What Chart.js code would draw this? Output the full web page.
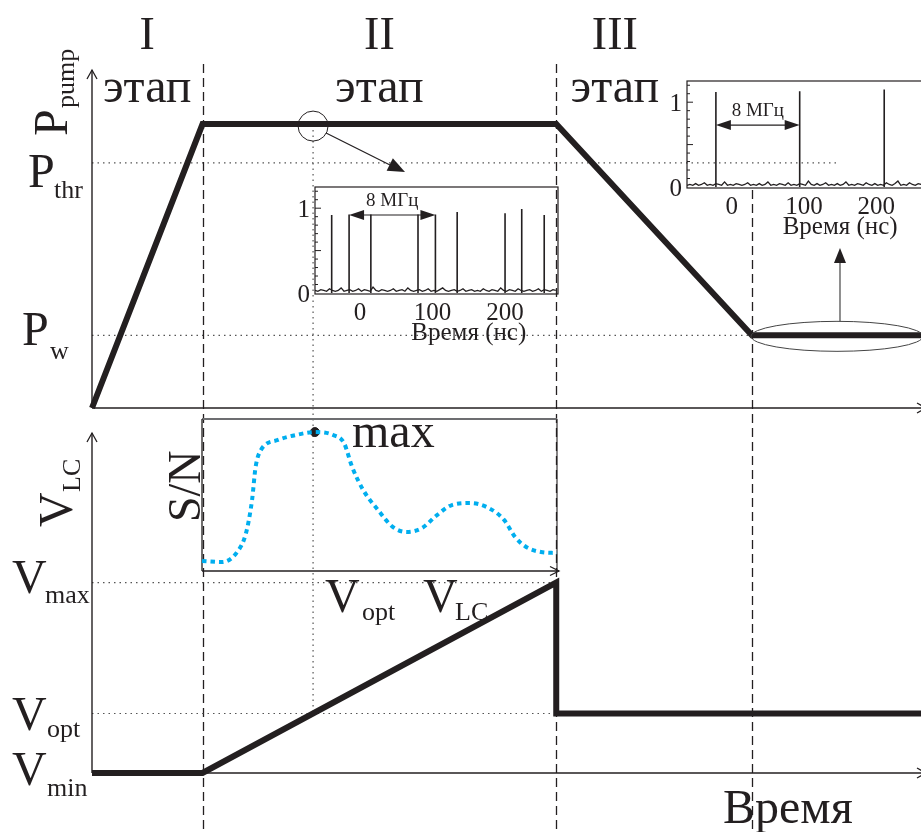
<!DOCTYPE html>
<html>
<head>
<meta charset="utf-8">
<script src="https://cdn.jsdelivr.net/npm/chart.js@4.4.1/dist/chart.umd.min.js"></script>
<style>
  html, body { margin: 0; padding: 0; background: #fff; overflow: hidden; }
  #wrap { position: relative; width: 921px; height: 832px; overflow: hidden; }
  #wrap canvas { position: absolute; left: 0; top: 0; }
</style>
</head>
<body>
<div id="wrap">
  <canvas id="pumpChart" width="921" height="832"></canvas>
  <canvas id="vlcChart" width="921" height="832"></canvas>
  <canvas id="spec1" width="921" height="832"></canvas>
  <canvas id="spec2" width="940" height="832"></canvas>
  <canvas id="snChart" width="921" height="832"></canvas>
</div>
<script>
// ---- data ----
const stageEdges = [1, 4.2, 5.97];
const stageNames = ["I", "II", "III"];
const stageLabelAt = [0.5, 2.6, 4.73];

const pumpTime  = [0, 1, 4.2, 5.97, 7.5];
const pumpPower = [0, 8.4, 8.4, 2.15, 2.15];
const pThr = 7.25;
const pW = 2.15;

const vlcTime = [0, 1, 4.2, 4.2, 7.5];
const vlcVolt = [0, 0, 5.6, 1.75, 1.75];
const vMax = 5.6;
const vOpt = 1.75;
const tOpt = 2.0;

// S/N vs V_LC (inset)
const snVolt  = [0, 0.056, 0.099, 0.124, 0.141, 0.151, 0.166, 0.214, 0.265, 0.318, 0.369, 0.4, 0.423, 0.454,
                 0.496, 0.538, 0.577, 0.62, 0.662, 0.704, 0.755, 0.808, 0.851, 0.882, 0.913, 0.955, 1.0];
const snRatio = [0.066, 0.059, 0.125, 0.25, 0.467, 0.684, 0.796, 0.862, 0.895, 0.914, 0.895, 0.842, 0.684, 0.533,
                 0.401, 0.289, 0.257, 0.283, 0.368, 0.434, 0.447, 0.414, 0.336, 0.224, 0.158, 0.125, 0.118];
const snPeak = 9;

// pulse trains (insets), time in ns
const specTicksX = [0, 100, 200];
const specTicksY = [0, 1];
const spikes1Time = [-39, -15, 15, 80, 104, 134, 200, 223, 254];
const spikes1Amp  = [0.92, 0.925, 0.925, 0.925, 0.925, 0.955, 0.94, 0.99, 0.92];
const spikes2Time = [-22, 94, 211];
const spikes2Amp  = [1.12, 1.13, 1.15];
const noiseStart = -62, noiseStep = 4;
const noise1 = [0.03,0.02,0.04,0.03,0.02,0.05,0.03,0.02,0.03,0.06,
                0.02,0.03,0.04,0.02,0.03,0.05,0.02,0.04,0.03,0.02,
                0.07,0.03,0.02,0.04,0.03,0.02,0.03,0.05,0.02,0.03,
                0.04,0.02,0.06,0.03,0.02,0.03,0.04,0.02,0.03,0.05,
                0.02,0.03,0.02,0.04,0.06,0.03,0.02,0.03,0.04,0.02,
                0.03,0.05,0.02,0.03,0.04,0.02,0.03,0.02,0.05,0.03,
                0.02,0.04,0.03,0.02,0.06,0.03,0.02,0.04,0.03,0.02,
                0.05,0.03,0.02,0.03,0.04,0.02,0.03,0.05,0.02,0.04,
                0.03,0.02,0.04,0.03];
const noise2 = [0.02,0.03,0.02,0.04,0.02,0.03,0.05,0.02,0.03,0.02,
                0.04,0.03,0.02,0.06,0.02,0.03,0.02,0.04,0.03,0.02,
                0.03,0.05,0.02,0.03,0.02,0.04,0.02,0.03,0.06,0.02,
                0.03,0.02,0.04,0.03,0.02,0.05,0.02,0.03,0.02,0.04,
                0.03,0.02,0.07,0.03,0.02,0.04,0.02,0.03,0.05,0.02,
                0.03,0.02,0.04,0.02,0.03,0.06,0.02,0.03,0.02,0.04,
                0.03,0.02,0.05,0.03,0.02,0.04,0.02,0.03,0.02,0.05,
                0.03,0.02,0.04,0.07,0.02,0.03,0.02,0.05,0.03,0.02,
                0.04,0.03,0.02,0.06];

// ---- drawing helpers ----
const SERIF = "'Liberation Serif', 'Times New Roman', serif";
const INK = "#231f20";

function text(ctx, s, x, y, size, align) {
  ctx.font = size + "px " + SERIF;
  ctx.textAlign = align || "left";
  ctx.textBaseline = "alphabetic";
  ctx.fillStyle = INK;
  ctx.fillText(s, x, y);
}
function subText(ctx, main, sub, x, y, sx, sy) {
  text(ctx, main, x, y, 48);
  text(ctx, sub, sx, sy, 26);
}
function rotText(ctx, main, sub, x, y, dx, dy, size) {
  ctx.save();
  ctx.translate(x, y);
  ctx.rotate(-Math.PI / 2);
  text(ctx, main, 0, 0, size || 48);
  if (sub) text(ctx, sub, dx, dy, 26);
  ctx.restore();
}
function seg(ctx, x1, y1, x2, y2, w, color, dash) {
  ctx.save();
  ctx.beginPath();
  ctx.lineWidth = w;
  ctx.strokeStyle = color || INK;
  ctx.setLineDash(dash || []);
  ctx.moveTo(x1, y1);
  ctx.lineTo(x2, y2);
  ctx.stroke();
  ctx.restore();
}
function head(ctx, x1, y1, x2, y2, len, half, filled, color) {
  const a = Math.atan2(y2 - y1, x2 - x1);
  const bx = x2 - len * Math.cos(a), by = y2 - len * Math.sin(a);
  const px = half * Math.sin(a), py = -half * Math.cos(a);
  ctx.save();
  ctx.setLineDash([]);
  ctx.beginPath();
  ctx.moveTo(bx + px, by + py);
  ctx.lineTo(x2, y2);
  ctx.lineTo(bx - px, by - py);
  if (filled) {
    ctx.closePath();
    ctx.fillStyle = color || INK;
    ctx.fill();
  } else {
    ctx.lineWidth = 1.3;
    ctx.strokeStyle = color || INK;
    ctx.stroke();
  }
  ctx.restore();
}
const DOT = [1.5, 4];
const DOT_COLOR = "#555";

function baseOptions(pad, xmin, xmax, ymin, ymax) {
  return {
    responsive: false,
    animation: false,
    events: [],
    layout: { padding: pad },
    plugins: { legend: { display: false }, tooltip: { enabled: false } },
    scales: {
      x: { type: "linear", display: false, min: xmin, max: xmax },
      y: { type: "linear", display: false, min: ymin, max: ymax }
    },
    elements: { point: { radius: 0 }, line: { tension: 0 } }
  };
}
function pairs(xs, ys) {
  return xs.map((x, i) => ({ x: x, y: ys[i] }));
}

// ---- top panel: pump power ----
const pumpDecor = {
  id: "pumpDecor",
  beforeDatasetsDraw(chart) {
    const { ctx, chartArea: a, scales: { x, y } } = chart;
    const yThr = y.getPixelForValue(pThr), yW = y.getPixelForValue(pW);
    seg(ctx, a.left, yThr, x.getPixelForValue(6.74), yThr, 1.2, DOT_COLOR, DOT);
    seg(ctx, a.left, yW, x.getPixelForValue(stageEdges[2]), yW, 1.2, DOT_COLOR, DOT);
    const xo = x.getPixelForValue(tOpt);
    seg(ctx, xo, y.getPixelForValue(pumpPower[1]) + 6, xo, a.bottom, 1.2, DOT_COLOR, DOT);
    stageEdges.forEach((t, i) => {
      const xs = Math.round(x.getPixelForValue(t)) + 0.5;
      seg(ctx, xs, i === 2 ? 190 : 64, xs, 832, 1.3, INK, [9, 5]);
    });
    // axes
    seg(ctx, a.left, a.bottom, a.left, a.top, 1.4);
    head(ctx, a.left, a.bottom, a.left, a.top, 9, 5, false);
    seg(ctx, a.left, a.bottom, 926, a.bottom, 1.4);
    head(ctx, a.left, a.bottom, 926, a.bottom, 9, 5, false);
  },
  afterDraw(chart) {
    const { ctx, scales: { x, y } } = chart;
    stageNames.forEach((s, i) => {
      const cx = x.getPixelForValue(stageLabelAt[i]);
      text(ctx, s, cx, 49, 46, "center");
      text(ctx, "этап", cx, 102, 48, "center");
    });
    rotText(ctx, "P", "pump", 67, 136, 28, 7);
    subText(ctx, "P", "thr", 28, 187, 54, 198);
    subText(ctx, "P", "w", 22, 345, 50, 359);

    // magnifier circle + arrow
    const cx = x.getPixelForValue(tOpt), cy = y.getPixelForValue(pumpPower[1]) + 2;
    ctx.save();
    ctx.beginPath();
    ctx.lineWidth = 1;
    ctx.strokeStyle = INK;
    ctx.arc(cx, cy, 15, 0, Math.PI * 2);
    ctx.stroke();
    ctx.restore();
    seg(ctx, cx + 13, cy + 7, 400, 170, 1.2);
    head(ctx, cx + 13, cy + 7, 405, 172, 17, 7, true);

    // ellipse on the P_w plateau + arrow to inset
    const ex = x.getPixelForValue(6.74), ey = y.getPixelForValue(pW) + 1;
    ctx.save();
    ctx.beginPath();
    ctx.lineWidth = 1;
    ctx.strokeStyle = "#444";
    ctx.ellipse(ex, ey, 86, 15, 0, 0, Math.PI * 2);
    ctx.stroke();
    ctx.restore();
    seg(ctx, ex + 3, ey - 15, ex + 3, 256, 1.2, "#444");
    head(ctx, ex + 3, ey - 15, ex + 3, 248, 15, 6, true, INK);
  }
};

new Chart(document.getElementById("pumpChart"), {
  type: "line",
  data: {
    datasets: [{
      data: pairs(pumpTime, pumpPower),
      borderColor: INK,
      borderWidth: 6,
      borderJoinStyle: "miter",
      clip: false
    }]
  },
  options: baseOptions({ left: 92, right: 0, top: 70, bottom: 424 }, 0, 7.5, 0, 10),
  plugins: [pumpDecor]
});

// ---- bottom panel: LC voltage ----
const vlcDecor = {
  id: "vlcDecor",
  beforeDatasetsDraw(chart) {
    const { ctx, chartArea: a, scales: { x, y } } = chart;
    const yMax = y.getPixelForValue(vMax), yOpt = y.getPixelForValue(vOpt);
    const x2 = x.getPixelForValue(stageEdges[1]);
    seg(ctx, a.left, yMax, x2, yMax, 1.2, DOT_COLOR, DOT);
    seg(ctx, a.left, yOpt, x2, yOpt, 1.2, DOT_COLOR, DOT);
    const xo = x.getPixelForValue(tOpt);
    seg(ctx, xo, a.top - 25, xo, yOpt, 1.2, DOT_COLOR, DOT);
    seg(ctx, a.left, a.bottom, a.left, a.top, 1.4);
    head(ctx, a.left, a.bottom, a.left, a.top, 9, 5, false);
    seg(ctx, a.left, a.bottom, 926, a.bottom, 1.4);
    head(ctx, a.left, a.bottom, 926, a.bottom, 9, 5, false);
  },
  afterDraw(chart) {
    const { ctx } = chart;
    rotText(ctx, "V", "LC", 72, 527, 35, 8);
    subText(ctx, "V", "max", 12, 593, 45, 603);
    subText(ctx, "V", "opt", 12, 730, 47, 737);
    subText(ctx, "V", "min", 12, 785, 47, 796);
    text(ctx, "Время", 723, 823, 48);
  }
};

new Chart(document.getElementById("vlcChart"), {
  type: "line",
  data: {
    datasets: [{
      data: pairs(vlcTime, vlcVolt),
      borderColor: INK,
      borderWidth: 6,
      borderJoinStyle: "miter",
      clip: false
    }]
  },
  options: baseOptions({ left: 92, right: 0, top: 433, bottom: 59 }, 0, 7.5, 0, 10),
  plugins: [vlcDecor]
});

// ---- pulse-train insets ----
function spikePoints(times, amps) {
  const pts = [];
  times.forEach((t, i) => {
    pts.push({ x: t, y: 0 }, { x: t, y: amps[i] }, { x: t, y: null });
  });
  return pts;
}
function noisePoints(vals) {
  return vals.map((v, i) => ({ x: noiseStart + i * noiseStep, y: v }));
}
function specDecor(id, arrowFrom, arrowTo, arrowLevel) {
  return {
    id: id,
    afterDatasetsDraw(chart) {
      const { ctx, chartArea: a, scales: { x, y } } = chart;
      ctx.save();
      ctx.lineWidth = 1.2;
      ctx.strokeStyle = INK;
      ctx.setLineDash([]);
      ctx.strokeRect(a.left, a.top, a.right - a.left, a.bottom - a.top);
      ctx.restore();
      for (let k = 1; k <= 12; k++) {
        const v = k / 10;
        const yy = y.getPixelForValue(v);
        const len = (k === 5 || k === 10) ? 6 : 3;
        seg(ctx, a.left, yy, a.left + len, yy, 1);
      }
      specTicksY.forEach(v => text(ctx, String(v), a.left - 5, y.getPixelForValue(v) + 9, 25, "right"));
      specTicksX.forEach(v => text(ctx, String(v), x.getPixelForValue(v), a.bottom + 26, 25, "center"));
      text(ctx, "Время (нс)", x.getPixelForValue(150), a.bottom + 46, 25, "center");
      const xa = x.getPixelForValue(arrowFrom), xb = x.getPixelForValue(arrowTo);
      const ya = y.getPixelForValue(arrowLevel);
      seg(ctx, xa + 8, ya, xb - 8, ya, 1.1);
      head(ctx, xb, ya, xa, ya, 15, 5, true);
      head(ctx, xa, ya, xb, ya, 15, 5, true);
      text(ctx, "8 МГц", (xa + xb) / 2, ya - 9, 19, "center");
    }
  };
}
function specChart(id, pad, noise, times, amps, plugin) {
  return new Chart(document.getElementById(id), {
    type: "line",
    data: {
      datasets: [
        { data: noisePoints(noise), borderColor: INK, borderWidth: 1.3, clip: false },
        { data: spikePoints(times, amps), borderColor: INK, borderWidth: 1.6, spanGaps: false }
      ]
    },
    options: baseOptions(pad, -62, 273, -0.012, 1.25),
    plugins: [plugin]
  });
}
specChart("spec1", { left: 315, right: 363, top: 187, bottom: 538 }, noise1, spikes1Time, spikes1Amp,
  specDecor("spec1Decor", spikes1Time[1], spikes1Time[4], 0.92));
specChart("spec2", { left: 687, right: 11, top: 81, bottom: 644 }, noise2, spikes2Time, spikes2Amp,
  specDecor("spec2Decor", spikes2Time[0], spikes2Time[1], 0.73));

// ---- S/N vs V_LC inset ----
const snDecor = {
  id: "snDecor",
  beforeDatasetsDraw(chart) {
    const { ctx, chartArea: a } = chart;
    seg(ctx, a.left, a.top, a.right, a.top, 2, "#6d6e71");
    seg(ctx, a.left, a.top, a.left, a.bottom, 1.3);
    seg(ctx, a.right, a.top, a.right, a.bottom, 1.1);
    seg(ctx, a.left, a.bottom, a.right + 2, a.bottom, 1.3);
    head(ctx, a.left, a.bottom, a.right + 2, a.bottom, 9, 4.5, false);
  },
  afterDraw(chart) {
    const { ctx } = chart;
    rotText(ctx, "S/N", null, 200, 522, 0, 0, 46);
    text(ctx, "max", 352, 447, 48);
    subText(ctx, "V", "opt", 325, 612, 362, 620);
    subText(ctx, "V", "LC", 423, 612, 455, 620);
  }
};

new Chart(document.getElementById("snChart"), {
  type: "line",
  data: {
    datasets: [
      {
        data: pairs(snVolt, snRatio),
        borderColor: "#00aeef",
        borderWidth: 4,
        borderDash: [4.5, 4],
        cubicInterpolationMode: "monotone",
        clip: false
      },
      {
        data: [{ x: snVolt[snPeak], y: snRatio[snPeak] }],
        showLine: false,
        pointRadius: 4.5,
        pointBackgroundColor: INK,
        pointBorderColor: INK,
        clip: false
      }
    ]
  },
  options: baseOptions({ left: 202, right: 364, top: 419, bottom: 261 }, 0, 1, 0, 1),
  plugins: [snDecor]
});
</script>
</body>
</html>
